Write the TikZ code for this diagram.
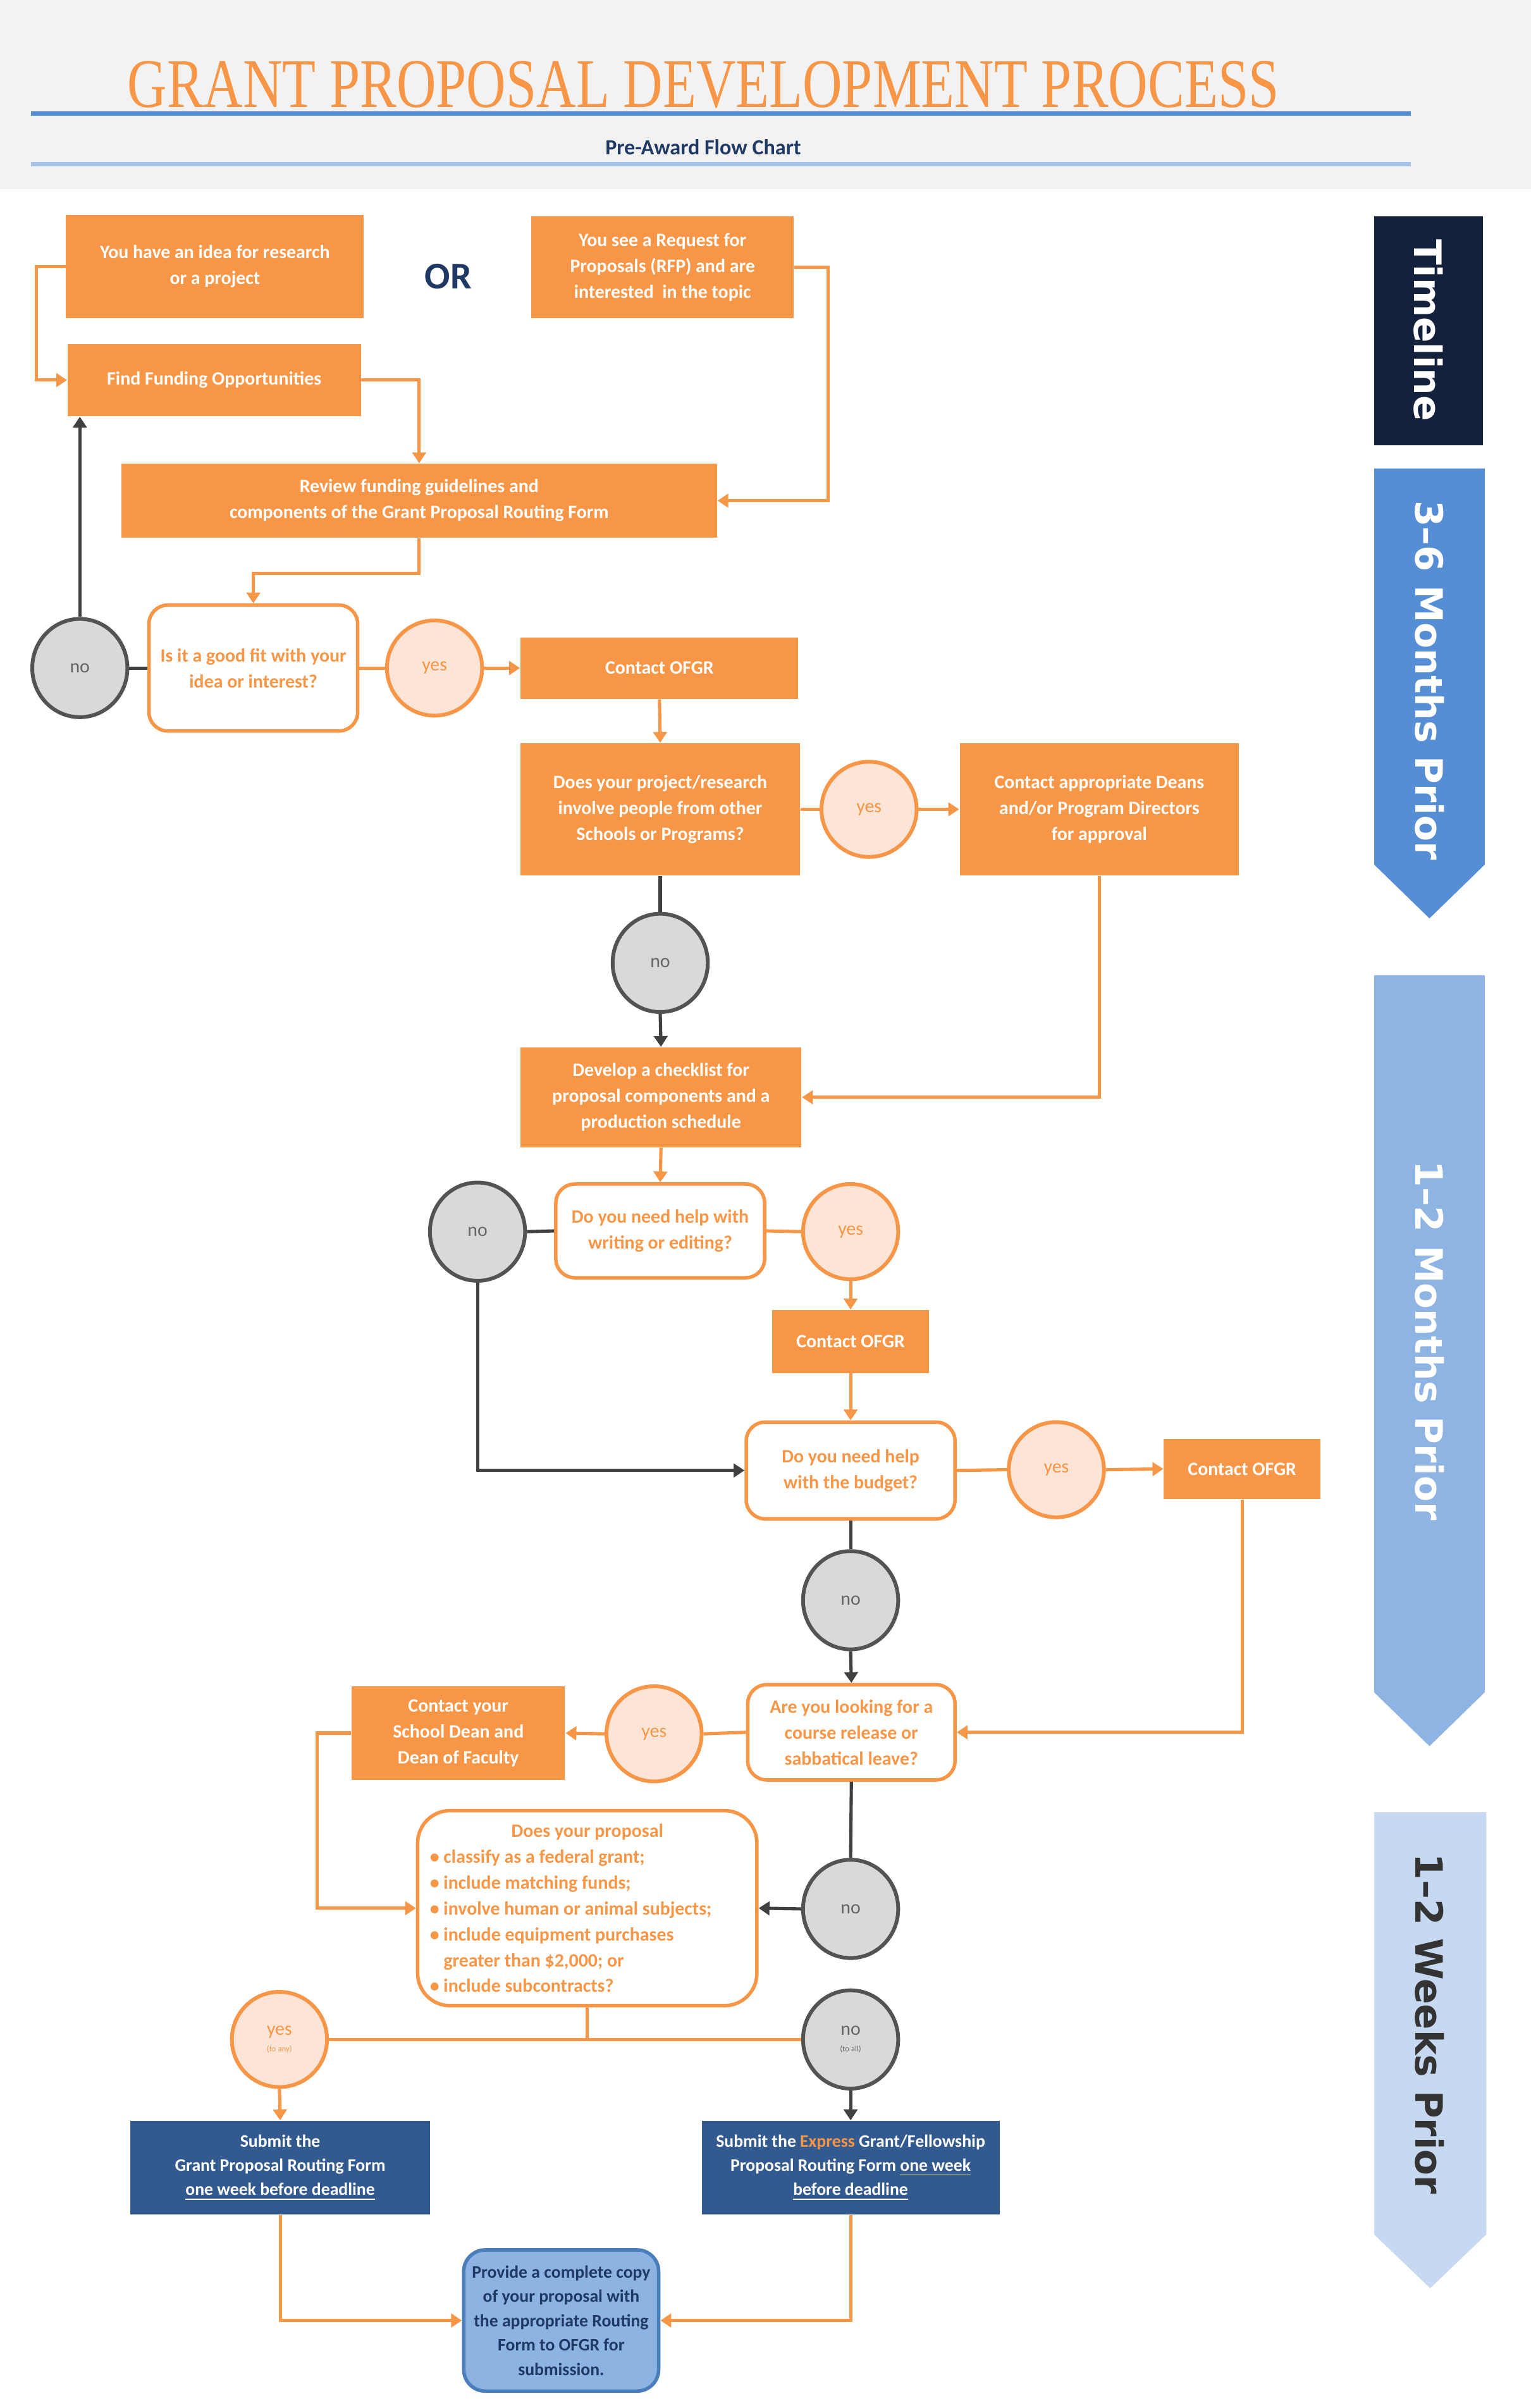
\documentclass[tikz,border=0pt]{standalone}
\usepackage{fontspec}
\setmainfont{Carlito}
\newfontfamily\ttlfont{Liberation Serif}
\newfontfamily\tlfont{DejaVu Sans}
\usetikzlibrary{arrows.meta,shapes.geometric}
\definecolor{org}{HTML}{F79646}
\definecolor{peach}{HTML}{FCE4D6}
\definecolor{lgray}{HTML}{D9D9D9}
\definecolor{dgray}{HTML}{404040}
\definecolor{navyb}{HTML}{335A8F}
\definecolor{tlnavy}{HTML}{14213D}
\definecolor{tl1}{HTML}{558ED5}
\definecolor{tl2}{HTML}{8EB4E3}
\definecolor{tl3}{HTML}{C6D9F1}
\definecolor{pfill}{HTML}{8DB3E2}
\definecolor{pdraw}{HTML}{4A7EBB}
\definecolor{ttl}{HTML}{1F3864}
\begin{document}
\begin{tikzpicture}[x=0.02cm,y=-0.02cm,
  every node/.style={font=\fontsize{7}{9.6}\selectfont\bfseries, inner sep=1pt, align=center},
  box/.style={fill=org, text=white},
  dec/.style={draw=org, line width=1.3pt, fill=white, rounded corners=7pt, text=org},
  nob/.style={ellipse, draw=dgray!90, line width=1.4pt, fill=lgray, text=dgray!80, minimum width=1.24cm, minimum height=1.28cm, font=\fontsize{7}{8}\selectfont},
  yesb/.style={ellipse, draw=org, line width=1.4pt, fill=peach, text=org, minimum width=1.24cm, minimum height=1.24cm, font=\fontsize{7}{8}\selectfont},
  sub/.style={fill=navyb, text=white},
  oa/.style={draw=org, line width=1.2pt, -{Triangle[width=5pt,length=4pt]}},
  ol/.style={draw=org, line width=1.2pt},
  ga/.style={draw=dgray, line width=1.2pt, -{Triangle[width=5pt,length=4pt]}},
  gl/.style={draw=dgray, line width=1.2pt}]
\useasboundingbox (0,0) rectangle (997,1568);
% header
\fill[black!5] (0,0) rectangle (997,123);
\node (title) at (458,55) {\ttlfont\mdseries\color{org}\resizebox{15cm}{0.6cm}{GRANT PROPOSAL DEVELOPMENT PROCESS}};
\draw[color=tl1, line width=1.7pt] (20,74) -- (919,74);
\node[text=ttl, font=\fontsize{8}{9}\selectfont\bfseries] (subt) at (458,96) {Pre-Award Flow Chart};
\draw[color=tl2!80, line width=1.7pt] (20,107) -- (919,107);
% timeline
\fill[tlnavy] (895,141) rectangle (966,290);
\node[rotate=-90, text=white, font=\tlfont\fontsize{14}{14}\selectfont\bfseries] (tl0) at (930.5,215) {Timeline};
\fill[tl1] (895,305) -- (967,305) -- (967,563) -- (931,598) -- (895,563) -- cycle;
\node[rotate=-90, text=white, font=\tlfont\fontsize{14}{14}\selectfont\bfseries] (tlA) at (931,443) {3–6 Months Prior};
\fill[tl2] (895,635) -- (967,635) -- (967,1102) -- (931,1137) -- (895,1102) -- cycle;
\node[rotate=-90, text=white, font=\tlfont\fontsize{14}{14}\selectfont\bfseries] (tlB) at (931,873) {1–2 Months Prior};
\fill[tl3] (895,1180) -- (968,1180) -- (968,1455) -- (931.5,1490) -- (895,1455) -- cycle;
\node[rotate=-90, text=black!80, font=\tlfont\fontsize{14}{14}\selectfont\bfseries] (tlC) at (931,1318) {1–2 Weeks Prior};
% nodes
\node[box, minimum width=3.88cm, minimum height=1.34cm] (A) at (140,173.5) {You have an idea for research\\or a project};
\node[text=ttl, font=\fontsize{14}{14}\selectfont\bfseries] (or) at (292,180) {OR};
\node[box, minimum width=3.42cm, minimum height=1.32cm] (B) at (431.5,174) {You see a Request for\\Proposals (RFP) and are\\interested\ \ in the topic};
\node[box, minimum width=3.82cm, minimum height=0.94cm] (C) at (139.5,247.5) {Find Funding Opportunities};
\node[box, minimum width=7.76cm, minimum height=0.96cm] (D) at (273,326) {Review funding guidelines and\\components of the Grant Proposal Routing Form};
\node[dec, minimum width=2.72cm, minimum height=1.64cm] (E) at (165,435) {Is it a good fit with your\\idea or interest?};
\node[nob] (noE) at (52,435) {no};
\node[yesb] (yesE) at (283,435) {yes};
\node[box, minimum width=3.62cm, minimum height=0.8cm] (O1) at (429.5,435) {Contact OFGR};
\node[box, minimum width=3.64cm, minimum height=1.72cm] (F) at (430,527) {Does your project/research\\involve people from other\\Schools or Programs?};
\node[yesb] (yesF) at (566,527) {yes};
\node[box, minimum width=3.64cm, minimum height=1.72cm] (G) at (716,527) {Contact appropriate Deans\\and/or Program Directors\\for approval};
\node[nob] (noF) at (430,627) {no};
\node[box, minimum width=3.66cm, minimum height=1.3cm] (H) at (430.5,714.5) {Develop a checklist for\\proposal components and a\\production schedule};
\node[dec, minimum width=2.72cm, minimum height=1.22cm] (I) at (430,801.5) {Do you need help with\\writing or editing?};
\node[nob] (noI) at (311,802) {no};
\node[yesb] (yesI) at (554,802) {yes};
\node[box, minimum width=2.04cm, minimum height=0.82cm] (O2) at (554,873.5) {Contact OFGR};
\node[dec, minimum width=2.72cm, minimum height=1.26cm] (J) at (554,957.5) {Do you need help\\with the budget?};
\node[yesb] (yesJ) at (688,957) {yes};
\node[box, minimum width=2.04cm, minimum height=0.78cm] (O3) at (809,956.5) {Contact OFGR};
\node[nob] (noJ) at (554,1042) {no};
\node[dec, minimum width=2.7cm, minimum height=1.24cm] (K) at (554.5,1128) {Are you looking for a\\course release or\\sabbatical leave?};
\node[yesb] (yesK) at (426,1129) {yes};
\node[box, minimum width=2.78cm, minimum height=1.22cm] (L) at (298.5,1128.5) {Contact your\\School Dean and\\Dean of Faculty};
\node[dec, minimum width=4.42cm, minimum height=2.54cm, rounded corners=12pt, align=left, inner sep=4pt] (M) at (382.5,1242.5) {\makebox[4.1cm]{Does your proposal}\\
\textbullet\ classify as a federal grant;\\
\textbullet\ include matching funds;\\
\textbullet\ involve human or animal subjects;\\
\textbullet\ include equipment purchases\\
\phantom{\textbullet\ }greater than \$2,000; or\\
\textbullet\ include subcontracts?};
\node[nob] (noK) at (554,1243) {no};
\node[yesb] (yesM) at (182,1328) {yes\\[-2pt]{\fontsize{3}{3}\selectfont\mdseries (to any)}};
\node[nob] (noM) at (554,1328) {no\\[-2pt]{\fontsize{3}{3}\selectfont\mdseries (to all)}};
\node[sub, minimum width=3.9cm, minimum height=1.22cm, font=\fontsize{6.5}{9}\selectfont\bfseries] (N) at (182.5,1411.5) {Submit the\\Grant Proposal Routing Form\\\underline{one week before deadline}};
\node[sub, minimum width=3.88cm, minimum height=1.22cm, font=\fontsize{6.5}{9}\selectfont\bfseries] (O) at (554,1411.5) {Submit the {\color{org}Express} Grant/Fellowship\\Proposal Routing Form \underline{one week}\\\underline{before deadline}};
\node[fill=pfill, draw=pdraw, line width=1.3pt, rounded corners=8pt, minimum width=2.54cm, minimum height=1.84cm, text=ttl, font=\fontsize{6.5}{9}\selectfont\bfseries] (P) at (365.5,1511) {Provide a complete copy\\of your proposal with\\the appropriate Routing\\Form to OFGR for\\submission.};
% connectors
\draw[oa] (A.west) -- ++(-19,0) |- (C.west);
\draw[oa] (C.east) -| (D.north);
\draw[oa] (B.east) -- ++(22,0) |- (D.east);
\draw[oa] (D.south) -- ++(0,23) -| (E.north);
\draw[gl] (E.west) -- (noE.east);
\draw[ga] (noE.north) -- (noE.north |- C.south);
\draw[ol] (E.east) -- (yesE.west);
\draw[oa] (yesE.east) -- (O1.west);
\draw[oa] (O1.south) -- (F.north);
\draw[ol] (F.east) -- (yesF.west);
\draw[oa] (yesF.east) -- (G.west);
\draw[gl] (F.south) -- (noF.north);
\draw[ga] (noF.south) -- (H.north);
\draw[oa] (G.south) |- (H.east);
\draw[oa] (H.south) -- (I.north);
\draw[gl] (I.west) -- (noI.east);
\draw[ol] (I.east) -- (yesI.west);
\draw[oa] (yesI.south) -- (O2.north);
\draw[ga] (noI.south) |- (J.west);
\draw[oa] (O2.south) -- (J.north);
\draw[ol] (J.east) -- (yesJ.west);
\draw[oa] (yesJ.east) -- (O3.west);
\draw[gl] (J.south) -- (noJ.north);
\draw[ga] (noJ.south) -- (K.north);
\draw[oa] (O3.south) |- (K.east);
\draw[ol] (K.west) -- (yesK.east);
\draw[oa] (yesK.west) -- (L.east);
\draw[oa] (L.west) -- ++(-22,0) |- (M.west);
\draw[gl] (K.south) -- (noK.north);
\draw[ga] (noK.west) -- (M.east);
\draw[ol] (M.south) -- (M.south |- yesM.east);
\draw[ol] (yesM.east) -- (noM.west);
\draw[oa] (yesM.south) -- (N.north);
\draw[ga] (noM.south) -- (O.north);
\draw[oa] (N.south) |- (P.west);
\draw[oa] (O.south) |- (P.east);
\end{tikzpicture}
\end{document}
